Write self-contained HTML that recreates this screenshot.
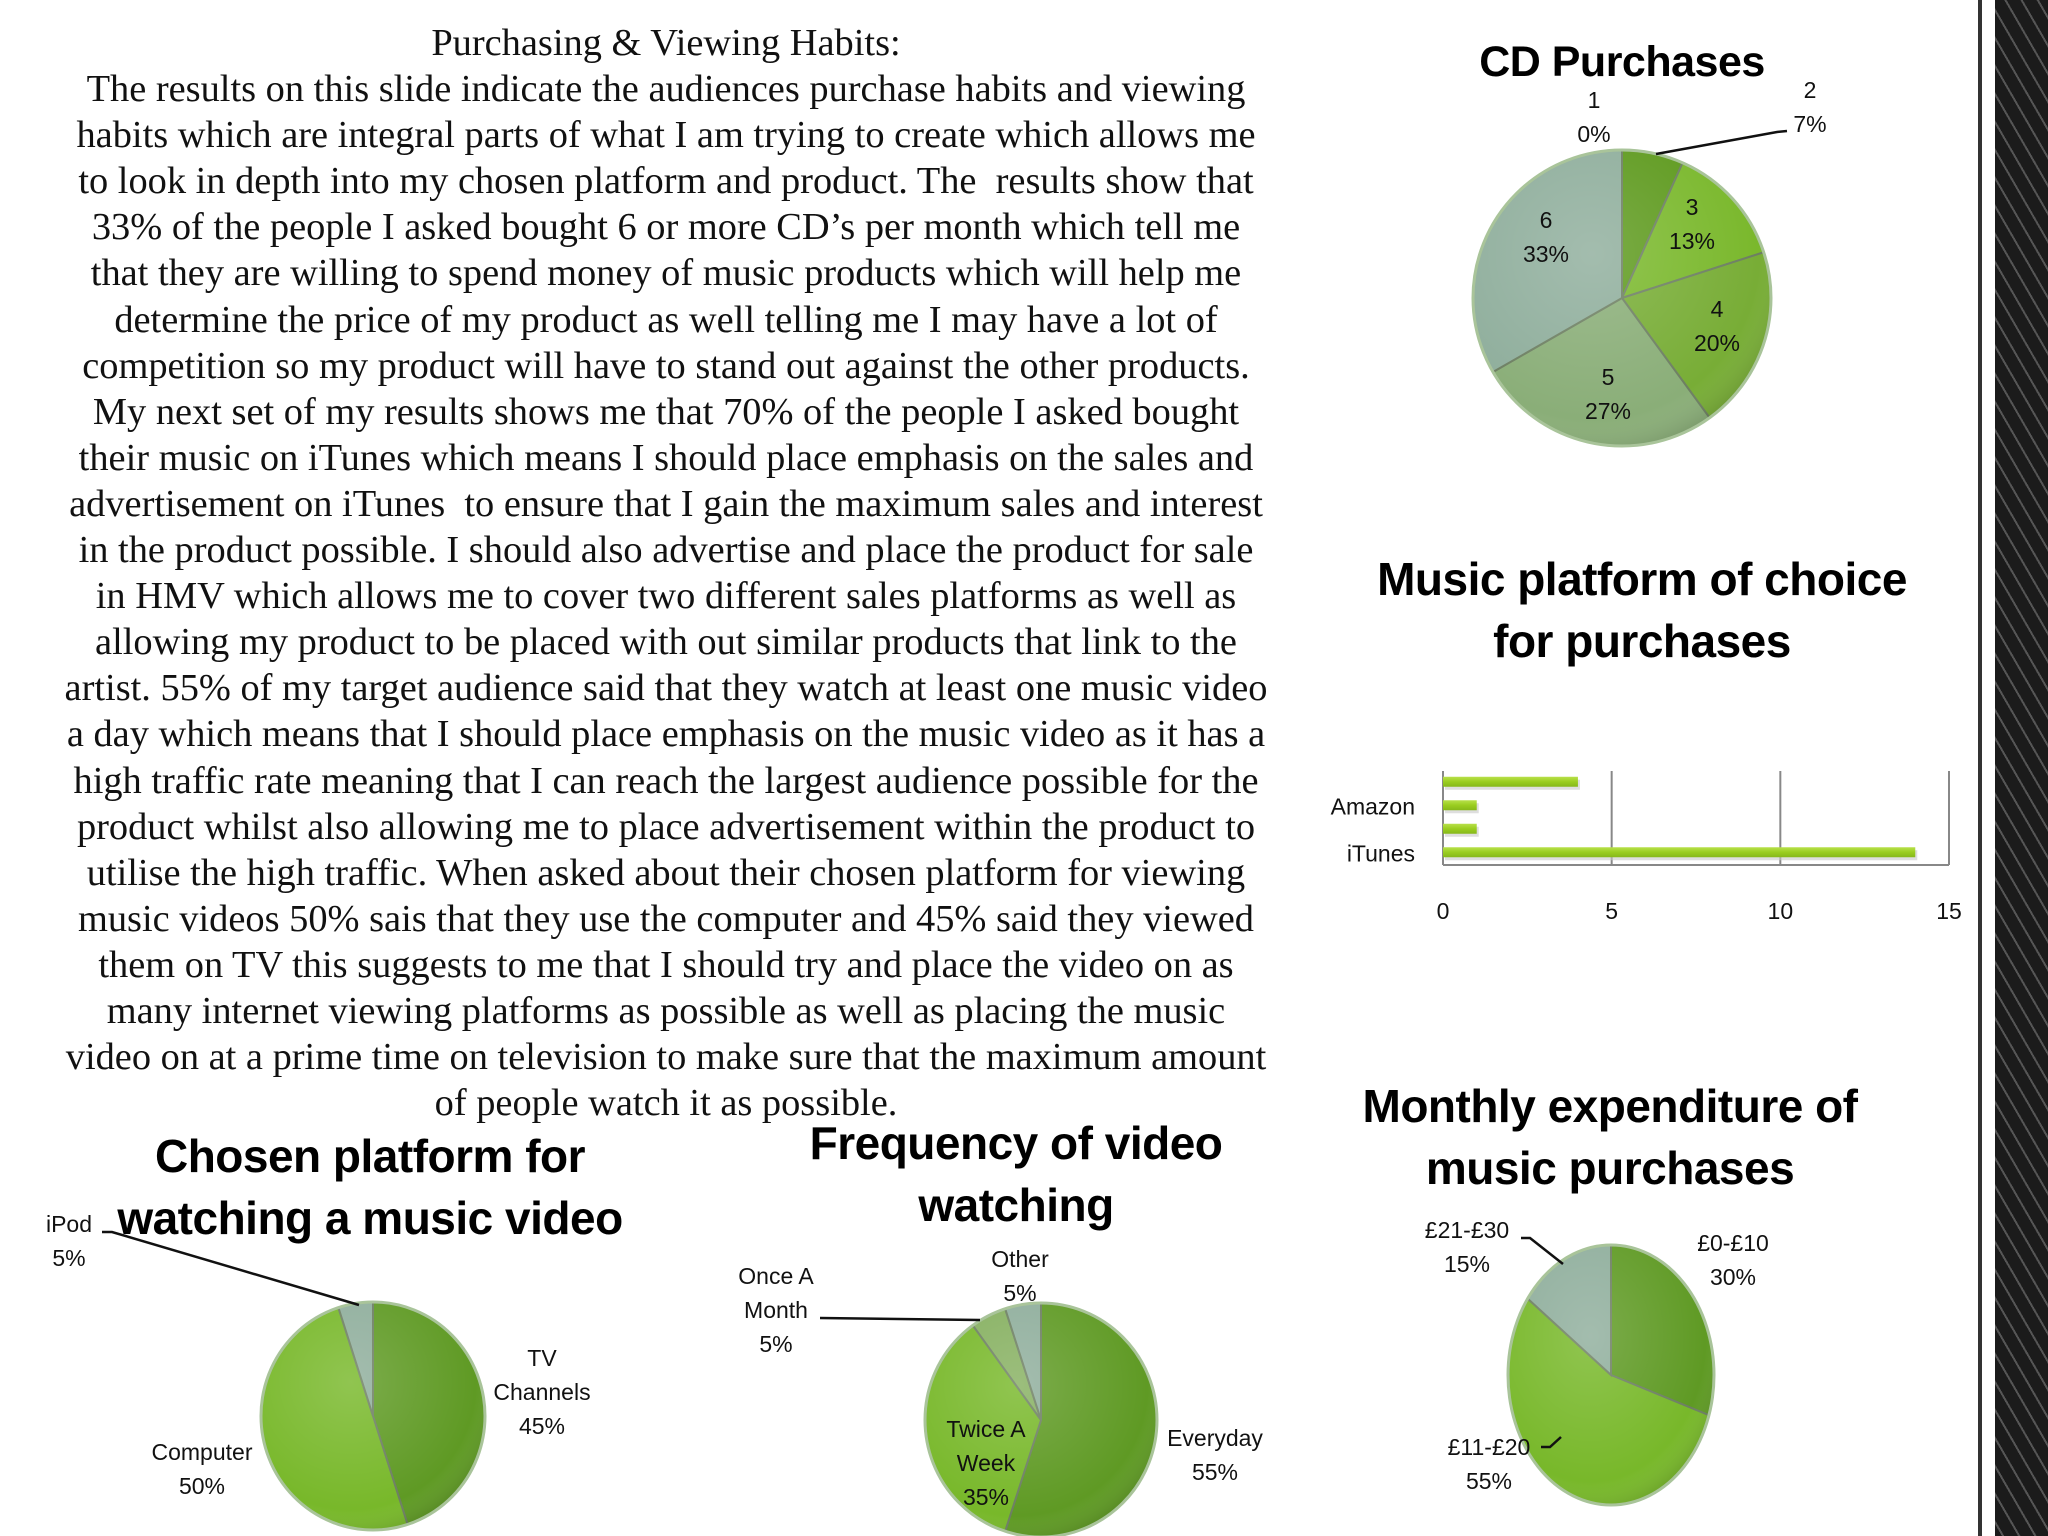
<!DOCTYPE html>
<html><head><meta charset="utf-8"><style>
html,body{margin:0;padding:0;background:#fff;}
#page{position:relative;width:2048px;height:1536px;overflow:hidden;background:#fff;}
.body-text{position:absolute;left:0;width:1332px;top:20px;font-family:"Liberation Serif",serif;font-size:38.4px;line-height:46.1px;text-align:center;color:#111;white-space:nowrap;}
.title{position:absolute;font-family:"Liberation Sans",sans-serif;font-weight:bold;color:#000;text-align:center;letter-spacing:-0.5px;}
#strip{position:absolute;left:1995px;top:0;width:53px;height:1536px;background:#2a2a2a;
background-image:repeating-linear-gradient(60deg,#1b1b1b 0 6px,#555 6px 8px,#1b1b1b 8px 14px),repeating-linear-gradient(-60deg,rgba(110,110,110,.5) 0 2px,transparent 2px 14px);}
#strip-line{position:absolute;left:1978px;top:0;width:4px;height:1536px;background:#333;}
svg text{font-family:"Liberation Sans",sans-serif;fill:#111;}
</style></head><body>
<div id="page">
<div class="body-text">
<div>Purchasing &amp; Viewing Habits:</div>
<div>The results on this slide indicate the audiences purchase habits and viewing</div>
<div>habits which are integral parts of what I am trying to create which allows me</div>
<div>to look in depth into my chosen platform and product. The&nbsp; results show that</div>
<div>33% of the people I asked bought 6 or more CD’s per month which tell me</div>
<div>that they are willing to spend money of music products which will help me</div>
<div>determine the price of my product as well telling me I may have a lot of</div>
<div>competition so my product will have to stand out against the other products.</div>
<div>My next set of my results shows me that 70% of the people I asked bought</div>
<div>their music on iTunes which means I should place emphasis on the sales and</div>
<div>advertisement on iTunes&nbsp; to ensure that I gain the maximum sales and interest</div>
<div>in the product possible. I should also advertise and place the product for sale</div>
<div>in HMV which allows me to cover two different sales platforms as well as</div>
<div>allowing my product to be placed with out similar products that link to the</div>
<div>artist. 55% of my target audience said that they watch at least one music video</div>
<div>a day which means that I should place emphasis on the music video as it has a</div>
<div>high traffic rate meaning that I can reach the largest audience possible for the</div>
<div>product whilst also allowing me to place advertisement within the product to</div>
<div>utilise the high traffic. When asked about their chosen platform for viewing</div>
<div>music videos 50% sais that they use the computer and 45% said they viewed</div>
<div>them on TV this suggests to me that I should try and place the video on as</div>
<div>many internet viewing platforms as possible as well as placing the music</div>
<div>video on at a prime time on television to make sure that the maximum amount</div>
<div>of people watch it as possible.</div>
</div>

<div class="title" style="left:1422px;width:400px;top:36px;font-size:43px;line-height:52px;">CD Purchases</div>
<div class="title" style="left:1292px;width:700px;top:548px;font-size:46px;line-height:62px;">Music platform of choice<br>for purchases</div>
<div class="title" style="left:1260px;width:700px;top:1075px;font-size:46px;line-height:62px;">Monthly expenditure of<br>music purchases</div>
<div class="title" style="left:20px;width:700px;top:1125px;font-size:46px;line-height:62px;">Chosen platform for<br>watching a music video</div>
<div class="title" style="left:666px;width:700px;top:1112px;font-size:46px;line-height:62px;">Frequency of video<br>watching</div>

<div id="strip-line"></div>
<div id="strip"></div>

<svg id="charts" width="2048" height="1536" style="position:absolute;left:0;top:0">
<defs>
<radialGradient id="shade" cx="0.4" cy="0.35" r="0.7">
<stop offset="0" stop-color="#fff" stop-opacity="0.18"/>
<stop offset="0.8" stop-color="#fff" stop-opacity="0"/>
<stop offset="1" stop-color="#000" stop-opacity="0.15"/>
</radialGradient>
<linearGradient id="barGrad" x1="0" y1="0" x2="0" y2="1">
<stop offset="0" stop-color="#b8e04a"/><stop offset="0.5" stop-color="#9acd20"/><stop offset="1" stop-color="#86b81a"/>
</linearGradient>
</defs>
</svg>
</div>
<script>
// ---- CD Purchases ----
const cdCategories = ["1","2","3","4","5","6"];
const cdValues = [0, 1, 2, 3, 4, 5];
const cdPercents = ["0%","7%","13%","20%","27%","33%"];
// ---- Chosen platform ----
const platCategories = ["TV Channels","Computer","iPod"];
const platValues = [45, 50, 5];
// ---- Frequency ----
const freqCategories = ["Everyday","Twice A Week","Once A Month","Other"];
const freqValues = [55, 35, 5, 5];
// ---- Monthly expenditure ----
const expCategories = ["£0-£10","£11-£20","£21-£30"];
const expValues = [30, 55, 15];
// ---- Music platform bar ----
const barCategories = ["HMV","Amazon","Other","iTunes"];
const barShowLabel = [false, true, false, true];
const barValues = [4, 1, 1, 14];
const barTicks = [0, 5, 10, 15];

const NS = "http://www.w3.org/2000/svg";
const svg = document.getElementById('charts');
function mk(tag, attrs, parent){const e=document.createElementNS(NS,tag);for(const k in attrs)e.setAttribute(k,attrs[k]);(parent||svg).appendChild(e);return e;}
function pt(cx,cy,rx,ry,a){return [cx+rx*Math.sin(a), cy-ry*Math.cos(a)];}
function pie(name, cx, cy, rx, ry, values, colors){
  const g = mk('g',{});
  
  
  const total = values.reduce((a,b)=>a+b,0);
  let acc = 0;
  values.forEach((v,i)=>{
    const a0 = acc/total*2*Math.PI; acc += v; const a1 = acc/total*2*Math.PI;
    if (v<=0) return;
    const p0 = pt(cx,cy,rx,ry,a0), p1 = pt(cx,cy,rx,ry,a1);
    const large = (a1-a0)>Math.PI?1:0;
    const p = mk('path',{d:`M${cx},${cy} L${p0[0]},${p0[1]} A${rx},${ry} 0 ${large} 1 ${p1[0]},${p1[1]} Z`,fill:colors[i],stroke:'#6d7f62','stroke-width':2},g);
    
    
  });
  mk('ellipse',{cx:cx,cy:cy,rx:rx,ry:ry,fill:'url(#shade)',stroke:'#a9c49a','stroke-width':3},g);
}
function label(lines, x, y, size){
  const t = mk('text',{x:x,y:y,'text-anchor':'middle','font-size':size||23});
  
  
  lines.forEach((l,i)=>{const s=mk('tspan',{x:x,dy:i?34:0},t);s.textContent=l;});
}
function leader(pts){mk('polyline',{points:pts,fill:'none',stroke:'#111','stroke-width':2.5});}

// CD pie
pie('cd-purchases-pie',1622,298,149,148,cdValues,['#6a9a3a','#5e9a1e','#7ab82c','#78ad36','#8aae78','#8fae9c']);
label([cdCategories[0],cdPercents[0]],1594,108);
label([cdCategories[1],cdPercents[1]],1810,98);
leader('1787,131 1777,132 1656,154');
label([cdCategories[2],cdPercents[2]],1692,215);
label([cdCategories[5],cdPercents[5]],1546,228);
label([cdCategories[3],cdPercents[3]],1717,317);
label([cdCategories[4],cdPercents[4]],1608,385);

// Platform pie
pie('chosen-platform-pie',373,1416,112,114,platValues,['#5f9a24','#78b82a','#8fae9c']);
label(['iPod','5%'],69,1232);
leader('102,1232 112,1232 359,1305');
label(['TV','Channels','45%'],542,1366);
label(['Computer','50%'],202,1460);

// Frequency pie
pie('frequency-pie',1041,1420,116,117,freqValues,['#5f9a24','#78b82a','#86b060','#8fae9c']);
label(['Other','5%'],1020,1267);
label(['Once A','Month','5%'],776,1284);
leader('820,1318 980,1320');
label(['Twice A','Week','35%'],986,1437);
label(['Everyday','55%'],1215,1446);

// Expenditure pie
pie('expenditure-pie',1611,1375,103,130,expValues,['#5f9a24','#78b82a','#8fae9c']);
label([expCategories[2],expValues[2]+'%'],1467,1238);
leader('1521,1238 1530,1238 1563,1264');
label([expCategories[0],expValues[0]+'%'],1733,1251);
label([expCategories[1],expValues[1]+'%'],1489,1455);
leader('1541,1447 1550,1447 1561,1437');

// Bar chart
const bx0=1443, bx1=1949, by0=771, by1=865;
const xScale = v => bx0 + (v-barTicks[0])/(barTicks[barTicks.length-1]-barTicks[0])*(bx1-bx0);
const band = (by1-by0)/barCategories.length;
const yCenter = i => by0 + band*(i+0.5);
barTicks.forEach(t=>{
  if (t>0) mk('line',{x1:xScale(t),x2:xScale(t),y1:by0,y2:by1,stroke:'#888','stroke-width':2});
  const tx = mk('text',{x:xScale(t),y:919,'text-anchor':'middle','font-size':23});
  
  
  tx.textContent = t;
});
mk('line',{x1:bx0,x2:bx0,y1:by0,y2:by1,stroke:'#888','stroke-width':2});
mk('line',{x1:bx0,x2:bx1,y1:by1,y2:by1,stroke:'#888','stroke-width':2});
barValues.forEach((v,i)=>{
  const y=yCenter(i);
  mk('rect',{x:bx0+2,y:y-3,width:xScale(v)-bx0,height:10,fill:'#c8c8c8',opacity:0.6});
  const r = mk('rect',{x:bx0,y:y-6,width:xScale(v)-bx0,height:10,fill:'url(#barGrad)'});
  
  
  if (barShowLabel[i]) {
    const t = mk('text',{x:1415,y:y+8,'text-anchor':'end','font-size':23});
    
    
    t.textContent = barCategories[i];
  }
});
</script>
</body></html>
